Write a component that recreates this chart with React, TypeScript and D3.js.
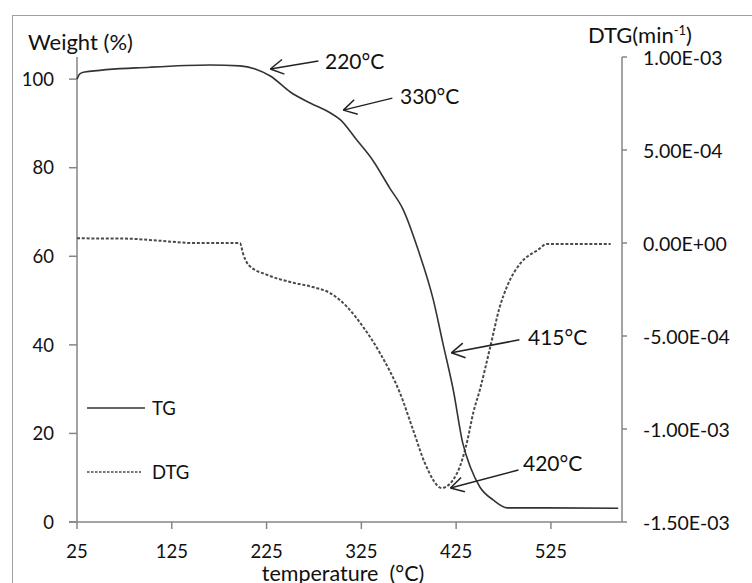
import { useEffect, useRef } from "react";
import * as d3 from "d3";

// TG curve: temperature (°C) vs weight (%)
const tgTemp = [25, 28, 33, 102, 165, 197, 213, 229, 250, 271, 292, 303, 320, 337, 355, 369, 385, 401, 411, 422, 432, 440, 450, 464, 479, 521, 596];
const tgWeight = [100.0, 101.2, 101.6, 102.7, 103.2, 103.0, 102.3, 100.7, 97.1, 94.6, 92.4, 90.8, 86.3, 81.7, 75.4, 70.6, 61.4, 50.1, 40.4, 29.8, 17.8, 12.4, 7.9, 5.0, 3.2, 3.2, 3.1];

// DTG curve: temperature (°C) vs DTG (min^-1)
const dtgTemp = [25, 74, 113, 147, 197, 200, 206, 226, 250, 274, 292, 310, 327, 345, 366, 380, 392, 410, 426, 437, 443, 450, 461, 471, 479, 493, 511, 521, 588];
const dtgValue = [2.5e-5, 2.4e-5, 1.2e-5, 0, 0, -5.4e-5, -1.18e-4, -1.72e-4, -2.1e-4, -2.37e-4, -2.69e-4, -3.44e-4, -4.52e-4, -5.95e-4, -8.1e-4, -1.011e-3, -1.183e-3, -1.317e-3, -1.237e-3, -1.059e-3, -9.14e-4, -7.9e-4, -5.59e-4, -3.44e-4, -2.3e-4, -1.08e-4, -3.8e-5, -5e-6, -5e-6];

const xTicks = [25, 125, 225, 325, 425, 525];
const leftTicks = [0, 20, 40, 60, 80, 100];
const rightTicks = [1e-3, 5e-4, 0, -5e-4, -1e-3, -1.5e-3];
const rightTickLabels = ["1.00E-03", "5.00E-04", "0.00E+00", "-5.00E-04", "-1.00E-03", "-1.50E-03"];

const legendLabels = ["TG", "DTG"];

// annotations: label, axis used, arrow tip in data units
const annLabels = ["220°C", "330°C", "415°C", "420°C"];
const annAxis = ["left", "left", "left", "right"];
const annTemp = [229, 306, 420, 419];
const annValue = [102.3, 93.0, 38.2, -1.317e-3];

const FONT = "Lato, 'Liberation Sans', sans-serif";

const App = () => {
  const svgRef = useRef<SVGSVGElement>(null);

  useEffect(() => {
    if (!svgRef.current) return;
    d3.select(svgRef.current).selectAll("*").remove();

    const width = 752;
    const height = 583;
    const plot = { left: 77, right: 622, top: 57, bottom: 522 };

    const svg = d3.select(svgRef.current)
      .attr("width", width)
      .attr("height", height)
      .style("font-family", FONT);

    svg.append("rect").attr("width", width).attr("height", height).attr("fill", "#fff");

    // outer chart frame (runs off the right and bottom edges)
    svg.append("rect")
      .attr("x", 12.5).attr("y", 15.5)
      .attr("width", 800).attr("height", 700)
      .attr("fill", "none").attr("stroke", "#a0a0a0").attr("stroke-width", 1);

    const x = d3.scaleLinear().domain([25, 600]).range([plot.left, plot.right]);
    const yL = d3.scaleLinear().domain([0, 105]).range([plot.bottom, plot.top]);
    const yR = d3.scaleLinear().domain([-1.5e-3, 1e-3]).range([plot.bottom, plot.top]);

    const axisColor = "#868686";
    const textColor = "#111";
    const curveColor = "#333";
    const tickFont = "18.5px";
    const titleFont = "22px";

    // axis lines
    const axes = svg.append("g").attr("stroke", axisColor).attr("stroke-width", 1.5);
    axes.append("line").attr("x1", plot.left).attr("x2", plot.left).attr("y1", plot.top).attr("y2", plot.bottom);
    axes.append("line").attr("x1", plot.right).attr("x2", plot.right).attr("y1", plot.top).attr("y2", plot.bottom);
    axes.append("line").attr("x1", plot.left - 8).attr("x2", plot.right).attr("y1", plot.bottom).attr("y2", plot.bottom);

    // x ticks
    axes.selectAll(".xt").data(xTicks).join("line")
      .attr("x1", d => x(d)).attr("x2", d => x(d))
      .attr("y1", plot.bottom).attr("y2", plot.bottom + 7);
    svg.selectAll(".xl").data(xTicks).join("text")
      .attr("x", d => x(d)).attr("y", plot.bottom + 36)
      .attr("text-anchor", "middle")
      .style("font-size", tickFont).attr("fill", textColor)
      .text(d => d);

    // left ticks
    axes.selectAll(".lt").data(leftTicks).join("line")
      .attr("x1", plot.left - 8).attr("x2", plot.left)
      .attr("y1", d => yL(d)).attr("y2", d => yL(d));
    svg.selectAll(".ll").data(leftTicks).join("text")
      .attr("x", plot.left - 23).attr("y", d => yL(d))
      .attr("dy", "0.36em").attr("text-anchor", "end")
      .style("font-size", tickFont).attr("fill", textColor)
      .text(d => d);

    // right ticks
    axes.selectAll(".rt").data(rightTicks).join("line")
      .attr("x1", plot.right).attr("x2", plot.right + 5)
      .attr("y1", d => yR(d)).attr("y2", d => yR(d));
    svg.selectAll(".rl").data(rightTicks).join("text")
      .attr("x", plot.right + 21).attr("y", d => yR(d) + 1)
      .attr("dy", "0.36em").attr("text-anchor", "start")
      .style("font-size", "19.5px").attr("fill", textColor)
      .text((_, i) => rightTickLabels[i]);

    // axis titles
    svg.append("text").attr("x", 28).attr("y", 50)
      .style("font-size", titleFont).attr("fill", textColor).text("Weight (%)");

    const dtgTitle = svg.append("text").attr("x", 588).attr("y", 43)
      .style("font-size", titleFont).attr("fill", textColor);
    dtgTitle.append("tspan").text("DTG(min");
    dtgTitle.append("tspan").attr("dy", -8).style("font-size", "13px").text("-1");
    dtgTitle.append("tspan").attr("dy", 8).text(")");

    svg.append("text").attr("x", 343).attr("y", 581)
      .attr("text-anchor", "middle").attr("xml:space", "preserve")
      .style("white-space", "pre")
      .style("font-size", "21.5px").attr("fill", textColor).text("temperature  (°C)");

    // curves
    const tgData = tgTemp.map((t, i) => [t, tgWeight[i]] as [number, number]);
    const dtgData = dtgTemp.map((t, i) => [t, dtgValue[i]] as [number, number]);

    const tgLine = d3.line<[number, number]>()
      .x(d => x(d[0])).y(d => yL(d[1])).curve(d3.curveMonotoneX);
    const dtgLine = d3.line<[number, number]>()
      .x(d => x(d[0])).y(d => yR(d[1])).curve(d3.curveMonotoneX);

    svg.append("path").attr("d", dtgLine(dtgData))
      .attr("fill", "none").attr("stroke", "#4a4a4a")
      .attr("stroke-width", 2).attr("stroke-dasharray", "3,1.8");

    svg.append("path").attr("d", tgLine(tgData))
      .attr("fill", "none").attr("stroke", curveColor).attr("stroke-width", 1.6);

    // legend
    const legendY = [408, 472];
    legendLabels.forEach((lab, i) => {
      svg.append("line")
        .attr("x1", 87).attr("x2", i === 0 ? 145 : 141)
        .attr("y1", legendY[i]).attr("y2", legendY[i])
        .attr("stroke", i === 0 ? curveColor : "#4a4a4a")
        .attr("stroke-width", 1.6)
        .attr("stroke-dasharray", i === 0 ? null : "2.5,1.5");
      svg.append("text").attr("x", 152).attr("y", legendY[i])
        .attr("dy", "0.36em").style("font-size", tickFont).attr("fill", textColor)
        .text(lab);
    });

    // annotations with open arrowheads
    const tailOffset = [[48, -8], [49, -12], [68, -13], [68, -18]];
    const textPos = [[325, 61], [400, 96], [528, 337], [523, 463]];
    const ann = svg.append("g").attr("stroke", "#222").attr("stroke-width", 1.5).attr("fill", "none");
    annLabels.forEach((lab, i) => {
      const tx = x(annTemp[i]);
      const ty = annAxis[i] === "left" ? yL(annValue[i]) : yR(annValue[i]);
      const sx = tx + tailOffset[i][0];
      const sy = ty + tailOffset[i][1];
      ann.append("line").attr("x1", sx).attr("y1", sy).attr("x2", tx).attr("y2", ty);
      const ang = Math.atan2(sy - ty, sx - tx);
      const len = 15, spread = 0.52;
      [ang - spread, ang + spread].forEach(a => {
        ann.append("line")
          .attr("x1", tx).attr("y1", ty)
          .attr("x2", tx + len * Math.cos(a)).attr("y2", ty + len * Math.sin(a));
      });
      svg.append("text").attr("x", textPos[i][0]).attr("y", textPos[i][1])
        .attr("dy", "0.36em").style("font-size", "21px").attr("fill", textColor)
        .text(lab);
    });
  }, []);

  return (
    <div style={{ position: "absolute", left: 0, top: 0 }}>
      <svg ref={svgRef} style={{ display: "block" }}></svg>
    </div>
  );
};

export default App;
